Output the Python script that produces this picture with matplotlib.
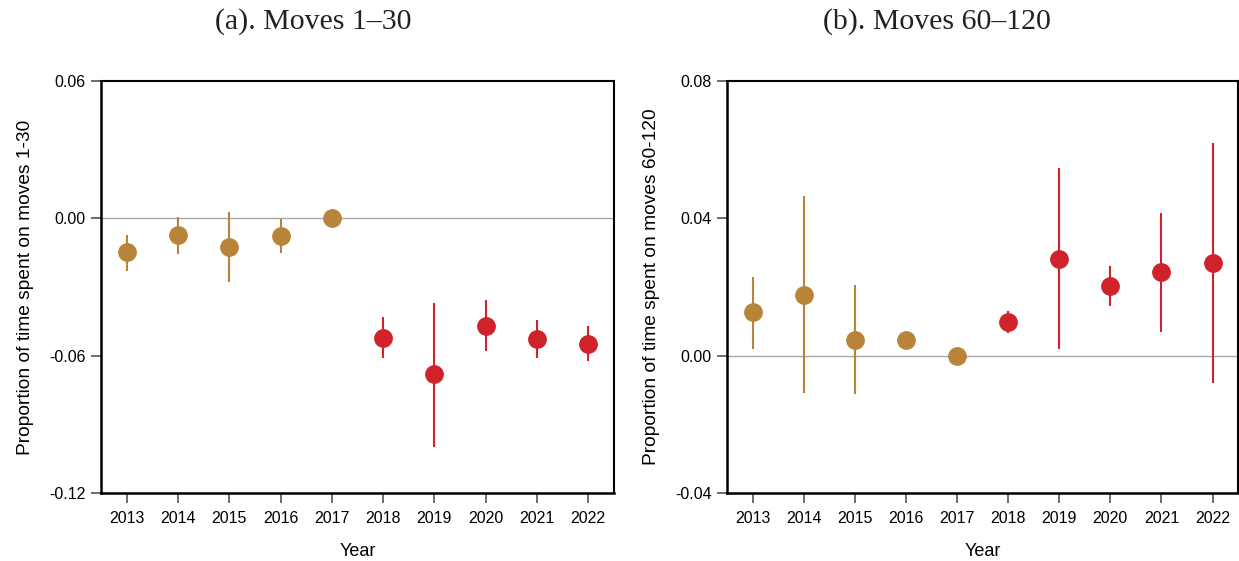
import matplotlib
matplotlib.use("Agg")
import matplotlib.pyplot as plt
import numpy as np

years = [2013, 2014, 2015, 2016, 2017, 2018, 2019, 2020, 2021, 2022]
year_labels = [str(y) for y in years]

# Moves 1-30: point estimates and confidence bounds
early_est = [-0.0149, -0.0074, -0.0127, -0.0077, 0.0, -0.0521, -0.0682, -0.0469, -0.0526, -0.0547]
early_lo = [-0.0229, -0.0155, -0.0279, -0.0152, 0.0, -0.0612, -0.0999, -0.0580, -0.0609, -0.0623]
early_hi = [-0.0072, 0.0006, 0.0026, -0.0003, 0.0, -0.0431, -0.0368, -0.0356, -0.0444, -0.0472]

# Moves 60-120: point estimates and confidence bounds
late_est = [0.0126, 0.0177, 0.0047, 0.0045, 0.0, 0.0097, 0.0282, 0.0203, 0.0243, 0.0271]
late_lo = [0.0020, -0.0110, -0.0113, 0.0040, 0.0, 0.0067, 0.0020, 0.0144, 0.0070, -0.0080]
late_hi = [0.0230, 0.0466, 0.0206, 0.0050, 0.0, 0.0130, 0.0546, 0.0261, 0.0416, 0.0620]

early_yticks = [0.06, 0.00, -0.06, -0.12]
early_ylabels = ["0.06", "0.00", "-0.06", "-0.12"]
late_yticks = [0.08, 0.04, 0.00, -0.04]
late_ylabels = ["0.08", "0.04", "0.00", "-0.04"]

GOLD = "#B8843A"
RED = "#D0222B"
colors = [GOLD if y <= 2017 else RED for y in years]

plt.rcParams["font.family"] = ["Liberation Sans", "DejaVu Sans"]

fig = plt.figure(figsize=(12.39, 5.61), dpi=100)
ax1 = fig.add_axes([0.0815, 0.1212, 0.414, 0.7344])
ax2 = fig.add_axes([0.5868, 0.1212, 0.4125, 0.7344])


def draw_panel(ax, est, lo, hi, yticks, ylabels, ylabel):
    ax.axhline(0, color="#A8A8A8", lw=1.0, zorder=1)
    for x, e, l, h, c in zip(years, est, lo, hi, colors):
        ax.plot([x, x], [l, h], color=c, lw=1.5, solid_capstyle="butt", zorder=2)
        ax.plot([x], [e], "o", color=c, ms=12.5, mec=c, zorder=3)
    ax.set_xlim(2012.5, 2022.5)
    ax.set_ylim(min(yticks), max(yticks))
    ax.set_xticks(years)
    ax.set_xticklabels(year_labels, fontsize=11.5)
    ax.set_yticks(yticks)
    ax.set_yticklabels(ylabels, fontsize=11.5)
    ax.tick_params(axis="both", direction="out", length=7, width=1.2,
                   color="#555555", labelcolor="black")
    ax.tick_params(axis="x", pad=6)
    ax.tick_params(axis="y", pad=4)
    for side in ["left", "bottom"]:
        ax.spines[side].set_linewidth(1.8)
    for side in ["top", "right"]:
        ax.spines[side].set_linewidth(1.5)
    ax.set_xlabel("Year", fontsize=13, labelpad=12)
    ax.set_ylabel(ylabel, fontsize=13.8, labelpad=11)


draw_panel(ax1, early_est, early_lo, early_hi, early_yticks, early_ylabels,
           "Proportion of time spent on moves 1-30")
draw_panel(ax2, late_est, late_lo, late_hi, late_yticks, late_ylabels,
           "Proportion of time spent on moves 60-120")

fig.text(0.253, 0.962, "(a). Moves 1\u201330", ha="center", va="center",
         fontsize=21.5, family="Liberation Serif", color="#222222")
fig.text(0.756, 0.962, "(b). Moves 60\u2013120", ha="center", va="center",
         fontsize=21.5, family="Liberation Serif", color="#222222")

fig.savefig("out.png", dpi=100)
